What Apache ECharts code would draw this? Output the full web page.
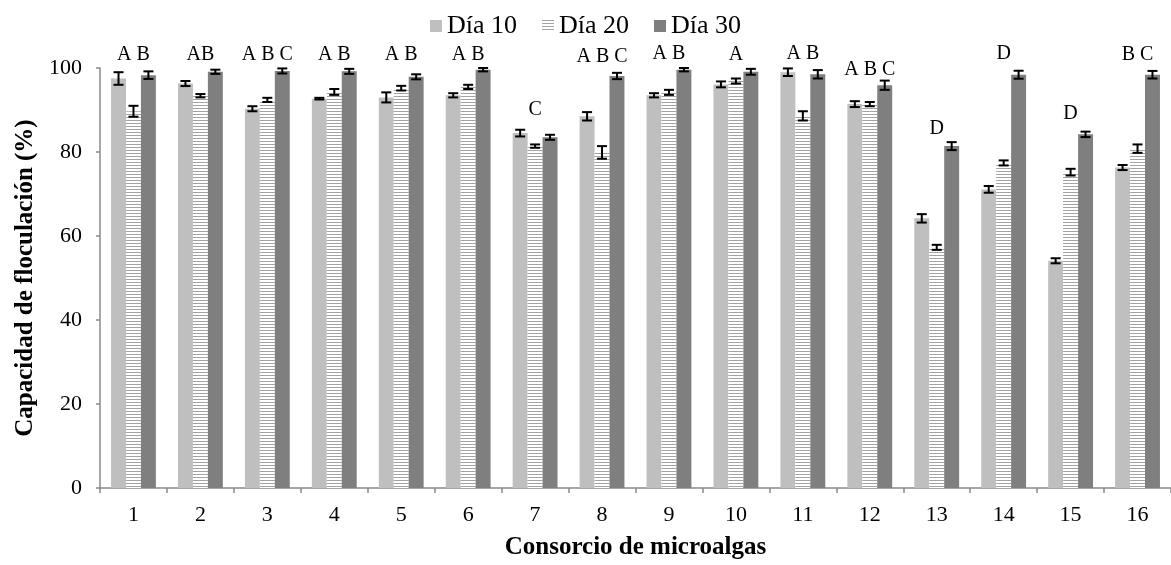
<!DOCTYPE html>
<html>
<head>
<meta charset="utf-8">
<script src="https://cdn.jsdelivr.net/npm/echarts@6/dist/echarts.min.js"></script>
<style>
html,body{margin:0;padding:0;background:#fff;}
#c{width:1171px;height:565px;}
</style>
</head>
<body>
<div id="c"></div>
<script>
const categories = ['1','2','3','4','5','6','7','8','9','10','11','12','13','14','15','16'];
const seriesNames = ['Día 10','Día 20','Día 30'];
const dia10 = [97.5,96.3,90.3,92.7,93.0,93.5,84.5,88.5,93.5,96.1,99.0,91.4,64.2,71.1,54.1,76.3];
const dia20 = [89.7,93.4,92.4,94.3,95.2,95.5,81.4,79.9,94.2,96.9,88.6,91.4,57.3,77.4,75.2,80.8];
const dia30 = [98.3,99.1,99.3,99.2,97.9,99.6,83.5,98.1,99.6,99.1,98.5,95.9,81.4,98.4,84.2,98.4];
const err10 = [1.5,0.6,0.6,0.2,1.2,0.5,0.8,1.0,0.5,0.7,0.9,0.7,1.0,0.8,0.6,0.6];
const err20 = [1.3,0.4,0.5,0.7,0.55,0.5,0.4,1.5,0.6,0.6,1.1,0.5,0.6,0.6,0.8,1.0];
const err30 = [0.9,0.5,0.6,0.6,0.6,0.4,0.6,0.75,0.4,0.7,1.0,1.1,0.95,0.95,0.65,0.9];
const letters = ['A B','AB','A B C','A B','A B','A B','C','A B C','A B','A','A B','A B C','D','D','D','B C'];
const letterHeights = [103.1,103.1,103.1,103.1,103.1,103.1,90.0,102.6,103.5,103.1,103.5,99.5,85.5,103.5,89.1,103.1];
const yTicks = [0,20,40,60,80,100];

const FONT = "'Liberation Serif','Times New Roman',serif";
const CAT_GAP = 0.33;

// striped pattern for Día 20
const pc = document.createElement('canvas');
pc.width = 4; pc.height = 3;
const pctx = pc.getContext('2d');
pctx.fillStyle = '#ffffff'; pctx.fillRect(0,0,4,3);
pctx.fillStyle = '#a3a3a3'; pctx.fillRect(0,0,4,1);

const colors = ['#bfbfbf', {image: pc, repeat: 'repeat'}, '#7f7f7f'];
const values = [dia10, dia20, dia30];
const errs = [err10, err20, err30];

const errData = [];
values.forEach((arr, s) => arr.forEach((v, i) => errData.push([i, s, v, errs[s][i]])));

const letterData = letters.map((t, i) => [i, letterHeights[i], t]);

const chart = echarts.init(document.getElementById('c'), null, {renderer: 'canvas'});

const barSeries = seriesNames.map((name, s) => ({
  name: name,
  type: 'bar',
  data: values[s],
  barGap: 0,
  barCategoryGap: (CAT_GAP * 100) + '%',
  itemStyle: {color: colors[s]},
  silent: true
}));

chart.setOption({
  animation: false,
  textStyle: {fontFamily: FONT},
  legend: {
    top: 8,
    left: 'center',
    data: seriesNames,
    itemWidth: 12,
    itemHeight: 12,
    itemGap: 25,
    textStyle: {fontFamily: FONT, fontSize: 26, color: '#000'},
    icon: 'rect'
  },
  grid: {left: 100, right: 0, top: 68, bottom: 75},
  xAxis: {
    type: 'category',
    data: categories,
    name: 'Consorcio de microalgas',
    nameLocation: 'middle',
    nameGap: 47,
    nameTextStyle: {fontFamily: FONT, fontSize: 25, fontWeight: 'bold', color: '#000'},
    axisLine: {lineStyle: {color: '#8a8a8a', width: 1.5}},
    axisTick: {show: true, length: 5, lineStyle: {color: '#8a8a8a', width: 1.5}},
    axisLabel: {fontFamily: FONT, fontSize: 22, color: '#000', margin: 16}
  },
  yAxis: {
    type: 'value',
    min: 0, max: 100, interval: 20,
    name: 'Capacidad de floculación (%)',
    nameLocation: 'middle',
    nameGap: 62,
    nameTextStyle: {fontFamily: FONT, fontSize: 25, fontWeight: 'bold', color: '#000'},
    splitLine: {show: false},
    axisLine: {show: true, lineStyle: {color: '#8a8a8a', width: 1.5}},
    axisTick: {show: true, length: 4, lineStyle: {color: '#8a8a8a', width: 1.5}},
    axisLabel: {fontFamily: FONT, fontSize: 22, color: '#000', margin: 18,
      formatter: v => yTicks.indexOf(v) >= 0 ? String(v) : ''}
  },
  series: barSeries.concat([
    {
      type: 'custom',
      name: 'err',
      silent: true,
      z: 10,
      data: errData,
      encode: {x: 0, y: 2},
      renderItem: function (params, api) {
        const i = api.value(0), s = api.value(1), v = api.value(2), e = api.value(3);
        const band = api.size([1, 0])[0];
        const bw = band * (1 - CAT_GAP) / 3;
        const c = api.coord([i, v]);
        const x = c[0] + (s - 1) * bw;
        const yTop = api.coord([i, v + e])[1];
        const yBot = api.coord([i, v - e])[1];
        const hw = 5;
        const st = {stroke: '#000', lineWidth: 2};
        return {
          type: 'group',
          children: [
            {type: 'line', shape: {x1: x, y1: yTop, x2: x, y2: yBot}, style: st},
            {type: 'line', shape: {x1: x - hw, y1: yTop, x2: x + hw, y2: yTop}, style: st},
            {type: 'line', shape: {x1: x - hw, y1: yBot, x2: x + hw, y2: yBot}, style: st}
          ]
        };
      }
    },
    {
      type: 'custom',
      name: 'letters',
      silent: true,
      clip: false,
      z: 10,
      data: letterData,
      encode: {x: 0, y: 1},
      renderItem: function (params, api) {
        const c = api.coord([api.value(0), api.value(1)]);
        return {
          type: 'text',
          x: c[0], y: c[1],
          style: {
            text: letters[params.dataIndex],
            fill: '#000',
            font: '20px ' + FONT,
            textAlign: 'center',
            textVerticalAlign: 'middle'
          }
        };
      }
    }
  ])
});
</script>
</body>
</html>
